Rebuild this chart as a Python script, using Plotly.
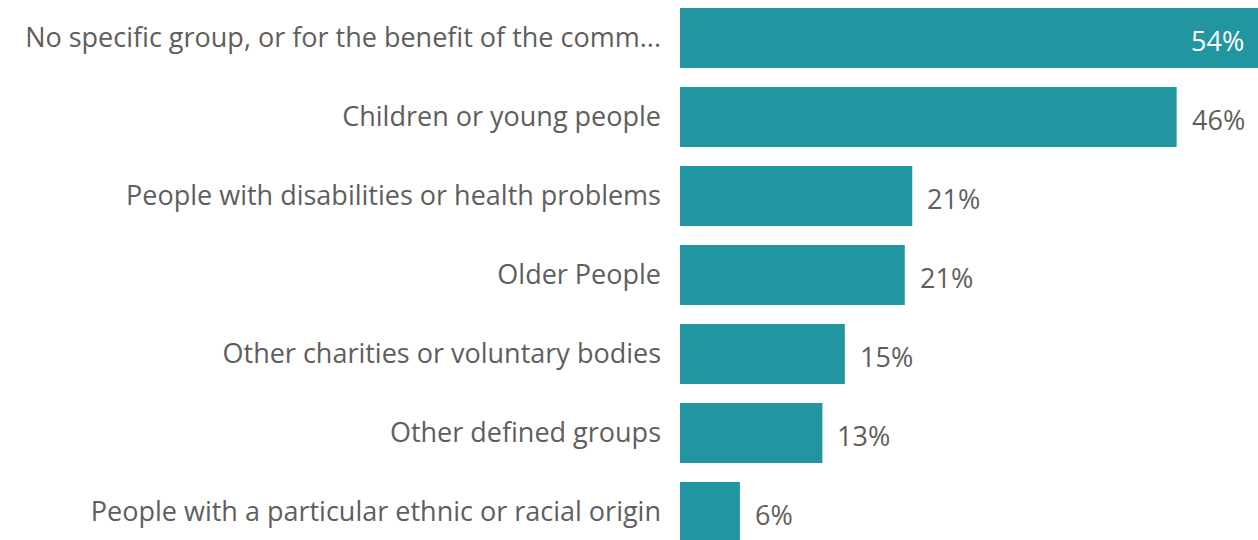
import plotly.graph_objects as go

categories = [
    "No specific group, or for the benefit of the comm...",
    "Children or young people",
    "People with disabilities or health problems",
    "Older People",
    "Other charities or voluntary bodies",
    "Other defined groups",
    "People with a particular ethnic or racial origin",
]
values = [54.0, 46.4, 21.7, 21.0, 15.4, 13.3, 5.6]
value_labels = ["54%", "46%", "21%", "21%", "15%", "13%", "6%"]

bar_color = "#2196A0"
text_color = "#605E5C"
font_family = "Open Sans"
font_size = 27

fig = go.Figure(
    go.Bar(
        x=values,
        y=categories,
        orientation="h",
        marker=dict(color=bar_color, line=dict(width=0)),
        hoverinfo="skip",
    )
)

# value labels: biggest bar gets its label inside, the rest sit just after the bar
for i, (v, lab) in enumerate(zip(values, value_labels)):
    inside = i == 0
    fig.add_annotation(
        x=v,
        y=categories[i],
        text=lab,
        showarrow=False,
        xanchor="right" if inside else "left",
        xshift=-12 if inside else 13,
        yshift=-2,
        font=dict(color="white" if inside else text_color, size=font_size, family=font_family),
    )

fig.update_layout(
    width=1258,
    height=540,
    margin=dict(l=680, r=0, t=0, b=0),
    paper_bgcolor="white",
    plot_bgcolor="white",
    bargap=0.24,
    showlegend=False,
    font=dict(family=font_family, color=text_color, size=font_size),
)
fig.update_xaxes(range=[0, 54], visible=False, fixedrange=True)
fig.update_yaxes(
    type="category",
    range=[6.354, -0.481],
    showgrid=False,
    showline=False,
    zeroline=False,
    ticks="",
    ticklabelstandoff=18,
    tickfont=dict(size=font_size, color=text_color, family=font_family),
    automargin=False,
    fixedrange=True,
)

# drop the default page margin so the figure fills the window exactly
fig.write_html(
    "out.html",
    config={"displayModeBar": False},
    post_script="document.body.style.margin='0';document.body.style.overflow='hidden';",
)
